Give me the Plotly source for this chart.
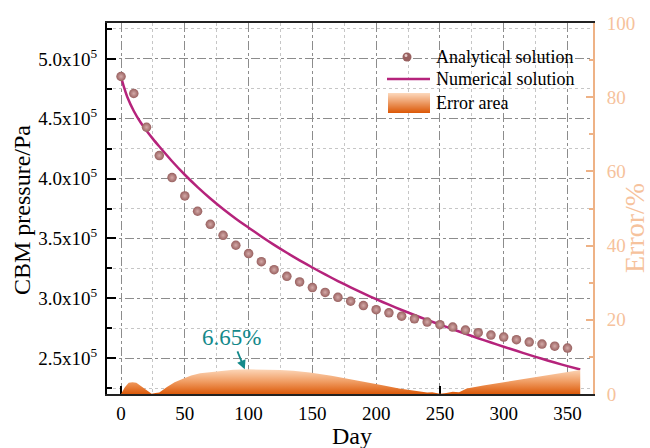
import plotly.graph_objects as go

# ---- data -------------------------------------------------------------
# analytical solution, sampled every 10 days (pressure in Pa)
days_analytical = [0, 10, 20, 30, 40, 50, 60, 70, 80, 90, 100, 110, 120, 130,
                   140, 150, 160, 170, 180, 190, 200, 210, 220, 230, 240, 250,
                   260, 270, 280, 290, 300, 310, 320, 330, 340, 350]
p_analytical = [4.853, 4.711, 4.429, 4.192, 4.008, 3.855, 3.727, 3.618, 3.526,
                3.443, 3.373, 3.306, 3.239, 3.183, 3.136, 3.089, 3.049, 3.008,
                2.975, 2.939, 2.905, 2.878, 2.850, 2.828, 2.801, 2.779, 2.759,
                2.734, 2.712, 2.692, 2.676, 2.654, 2.634, 2.617, 2.600, 2.584]
p_analytical = [v * 1e5 for v in p_analytical]

# numerical solution
days_numerical = [0, 2, 5, 10, 15, 20, 25, 30, 40, 50, 60, 70, 80, 90, 100,
                  110, 120, 130, 140, 150, 160, 170, 180, 190, 200, 210, 220,
                  230, 240, 250, 260, 270, 280, 290, 300, 310, 320, 330, 340,
                  350, 360]
p_numerical = [4.85, 4.775, 4.68, 4.565, 4.475, 4.40, 4.332, 4.268, 4.145,
               4.032, 3.929, 3.834, 3.746, 3.665, 3.59, 3.516, 3.446, 3.38,
               3.317, 3.257, 3.199, 3.144, 3.091, 3.040, 2.992, 2.946, 2.902,
               2.860, 2.819, 2.780, 2.741, 2.703, 2.666, 2.630, 2.595, 2.561,
               2.527, 2.494, 2.463, 2.433, 2.405]
p_numerical = [v * 1e5 for v in p_numerical]

# relative error between the two solutions (%)
days_error = [0, 3, 6, 9, 12, 16, 20, 24, 27, 30, 36, 42, 49, 55, 62, 75, 88,
              100, 115, 125, 135, 148, 165, 180, 195, 206, 218, 229, 236, 240,
              244, 250, 255, 260, 265, 271, 284, 297, 310, 323, 337, 350, 360]
error_pct = [0.0, 1.8, 3.0, 3.2, 3.0, 2.0, 1.0, 0.1, 0.3, 0.4, 1.9, 3.2, 4.2,
             5.0, 5.6, 6.1, 6.55, 6.65, 6.6, 6.5, 6.3, 5.8, 4.9, 4.0, 3.0, 2.3,
             1.5, 0.9, 0.6, 0.4, 0.5, 0.05, 0.3, 0.6, 0.5, 1.5, 2.3, 3.0, 3.8,
             4.4, 5.1, 5.8, 6.5]

# axis ticks
x_ticks = [0, 50, 100, 150, 200, 250, 300, 350]
y_tick_vals = [2.5e5, 3.0e5, 3.5e5, 4.0e5, 4.5e5, 5.0e5]
y_tick_text = ["2.5x10<sup>5</sup>", "3.0x10<sup>5</sup>", "3.5x10<sup>5</sup>",
               "4.0x10<sup>5</sup>", "4.5x10<sup>5</sup>", "5.0x10<sup>5</sup>"]
peak_day, peak_error = 97, 6.65

# ---- styling -----------------------------------------------------------
FONT = "Liberation Serif"
LINE_COLOR = "#b5237b"
MARKER_COLOR = "#98605f"
PEACH = "#f6c29c"
PEACH_LINE = "#eeb286"
ORANGE_DARK = "#dc5a0a"
ORANGE_LIGHT = "#fcd6b8"
TEAL = "#13898a"
MAJOR_GRID = "#8c8c8c"
MINOR_GRID = "#c6c6c6"

W, H = 650, 448
L, R, T, B = 107, 57, 23, 54
PW, PH = W - L - R, H - T - B


def px(x):
    return (x - L) / PW


def py(y):
    return (H - B - y) / PH


fig = go.Figure()

fig.add_trace(go.Scatter(
    x=days_error, y=error_pct, yaxis="y2", mode="lines",
    line=dict(width=0, color=ORANGE_DARK), fill="tozeroy",
    fillgradient=dict(type="vertical",
                      colorscale=[[0, ORANGE_DARK], [0.5, "#f09c62"], [1, ORANGE_LIGHT]]),
    name="Error area", showlegend=False, hoverinfo="skip"))

fig.add_trace(go.Scatter(
    x=days_numerical, y=p_numerical, mode="lines",
    line=dict(color=LINE_COLOR, width=2.5, shape="spline", smoothing=0.5),
    name="Numerical solution", showlegend=False))

fig.add_trace(go.Scatter(
    x=days_analytical, y=p_analytical, mode="markers",
    marker=dict(size=9.5, color=MARKER_COLOR, line=dict(width=0),
                gradient=dict(type="radial", color="#d4aaa8")),
    name="Analytical solution", showlegend=False))

axis_font = dict(family=FONT, size=19, color="black")

fig.update_layout(
    width=W, height=H,
    margin=dict(l=L, r=R, t=T, b=B),
    paper_bgcolor="white", plot_bgcolor="white",
    font=dict(family=FONT),
    xaxis=dict(
        range=[-11, 370], tickmode="array", tickvals=x_ticks,
        ticks="inside", ticklen=8, tickwidth=1.5, tickcolor="black",
        showline=True, linecolor="#222", linewidth=2, mirror=True,
        showgrid=True, gridcolor=MAJOR_GRID, griddash="dashdot", gridwidth=1,
        minor=dict(tickmode="linear", tick0=0, dtick=25, showgrid=True,
                   gridcolor=MINOR_GRID, griddash="dot", ticks=""),
        tickfont=axis_font, zeroline=False, layer="below traces",
        ticklabelstandoff=1),
    yaxis=dict(
        range=[2.2e5, 5.3e5], tickmode="array", tickvals=y_tick_vals,
        ticktext=y_tick_text,
        ticks="inside", ticklen=9, tickwidth=1.5, tickcolor="black",
        showline=True, linecolor="black", linewidth=2,
        showgrid=True, gridcolor=MAJOR_GRID, griddash="dashdot", gridwidth=1,
        minor=dict(tickmode="linear", tick0=0, dtick=25000, showgrid=True,
                   gridcolor=MINOR_GRID, griddash="dot", ticks="inside",
                   ticklen=5, tickcolor="black", tickwidth=1.5),
        tickfont=axis_font, zeroline=False, ticklabelstandoff=4),
    yaxis2=dict(
        overlaying="y", side="right", range=[0, 100],
        tickmode="linear", tick0=0, dtick=20,
        ticks="inside", ticklen=7, tickwidth=1.5, tickcolor=PEACH_LINE,
        showline=True, linecolor=PEACH_LINE, linewidth=2, showgrid=False,
        minor=dict(tickmode="linear", tick0=0, dtick=10, ticks="inside",
                   ticklen=4, tickcolor=PEACH_LINE, tickwidth=1.5),
        tickfont=dict(family=FONT, size=19, color=PEACH), zeroline=False,
        ticklabelstandoff=8),
)

annotations = [
    dict(x=peak_day, y=peak_error, xref="x", yref="y2", text="6.65%",
         showarrow=True, ax=-13, ay=-32, arrowhead=2, arrowsize=1,
         arrowwidth=1.8, arrowcolor=TEAL, standoff=0,
         font=dict(family=FONT, size=23, color=TEAL)),
    dict(x=px(22), y=py(210), xref="paper", yref="paper", text="CBM pressure/Pa",
         textangle=-90, showarrow=False, xanchor="center", yanchor="middle",
         font=dict(family=FONT, size=24, color="black")),
    dict(x=px(352), y=py(436), xref="paper", yref="paper", text="Day",
         showarrow=False, xanchor="center", yanchor="middle",
         font=dict(family=FONT, size=24, color="black")),
    dict(x=px(634), y=py(228), xref="paper", yref="paper", text="Error/%",
         textangle=-90, showarrow=False, xanchor="center", yanchor="middle",
         font=dict(family=FONT, size=28, color=PEACH)),
]

# ---- legend (drawn by hand so the gradient swatch can be shown) --------
legend_rows = [("Analytical solution", 57), ("Numerical solution", 79),
               ("Error area", 103)]
for label, yc in legend_rows:
    annotations.append(dict(x=px(434), y=py(yc), xref="paper", yref="paper",
                            text=label, showarrow=False, xanchor="left",
                            yanchor="middle",
                            font=dict(family=FONT, size=18, color="black")))

shapes = []
# ball marker
shapes.append(dict(type="circle", xref="paper", yref="paper",
                   x0=px(402.5), x1=px(411.5), y0=py(61.5), y1=py(52.5),
                   fillcolor=MARKER_COLOR, line=dict(width=0)))
shapes.append(dict(type="circle", xref="paper", yref="paper",
                   x0=px(404.5), x1=px(407.5), y0=py(57), y1=py(54),
                   fillcolor="#e6cccb", line=dict(width=0)))
# line sample
shapes.append(dict(type="line", xref="paper", yref="paper",
                   x0=px(387), x1=px(430), y0=py(79), y1=py(79),
                   line=dict(color=LINE_COLOR, width=2.5)))


def mix(c1, c2, t):
    a = [int(c1[i:i + 2], 16) for i in (1, 3, 5)]
    b = [int(c2[i:i + 2], 16) for i in (1, 3, 5)]
    return "rgb({},{},{})".format(*[round(a[k] + (b[k] - a[k]) * t) for k in range(3)])


# gradient swatch
steps = 20
top, bottom = 93, 113
for i in range(steps):
    y0 = top + (bottom - top) * i / steps
    y1 = top + (bottom - top) * (i + 1) / steps
    shapes.append(dict(type="rect", xref="paper", yref="paper",
                       x0=px(388), x1=px(430), y0=py(y1), y1=py(y0),
                       fillcolor=mix(ORANGE_LIGHT, ORANGE_DARK, i / (steps - 1)),
                       line=dict(width=0)))

fig.update_layout(annotations=annotations, shapes=shapes)

fig.write_html("out.html")
